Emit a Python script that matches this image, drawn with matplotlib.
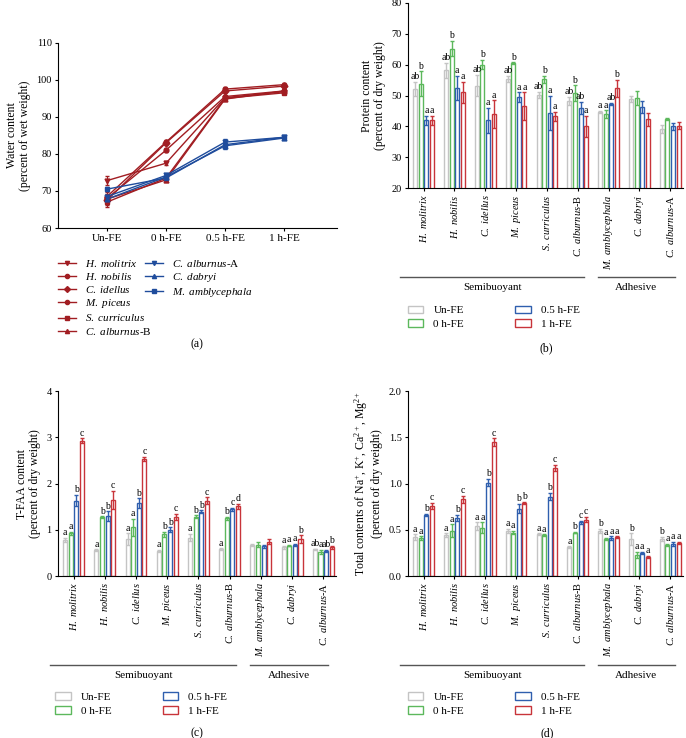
import numpy as np
import matplotlib
matplotlib.use("Agg")
from matplotlib import pyplot as plt
from matplotlib.lines import Line2D
from matplotlib.patches import Patch
from matplotlib.transforms import blended_transform_factory

plt.rcParams["font.family"] = ["Liberation Serif", "DejaVu Serif"]
plt.rcParams["mathtext.fontset"] = "custom"
plt.rcParams["mathtext.rm"] = "Liberation Serif"
plt.rcParams["mathtext.it"] = "Liberation Serif:italic"
plt.rcParams["font.size"] = 7.5
plt.rcParams["axes.linewidth"] = 0.8

stages = ["Un-FE", "0 h-FE", "0.5 h-FE", "1 h-FE"]
species = ["H. molitrix", "H. nobilis", "C. idellus", "M. piceus", "S. curriculus",
           "C. alburnus-B", "M. amblycephala", "C. dabryi", "C. alburnus-A"]

# (a) water content, percent of wet weight
water_red = {
    "H. molitrix": [72.8, 77.5, 95.2, 96.8],
    "H. nobilis": [68.5, 83.2, 97.5, 98.7],
    "C. idellus": [67.5, 83.0, 97.0, 98.3],
    "M. piceus": [68.0, 81.0, 95.5, 97.0],
    "S. curriculus": [67.0, 73.5, 95.0, 96.5],
    "C. alburnus-B": [67.8, 73.0, 94.8, 97.0],
}
water_red_err = [1.2, 0.6, 0.5, 0.4]
water_blue = {
    "C. alburnus-A": [68.5, 74.2, 83.2, 84.5],
    "C. dabryi": [67.8, 73.8, 82.2, 84.3],
    "M. amblycephala": [70.5, 73.5, 82.5, 84.5],
}
water_blue_err = [0.5, 0.5, 0.9, 0.3]
red_markers = ["v", "o", "D", "o", "s", "^"]
blue_markers = ["v", "^", "s"]

# (b) protein content
protein = [[52.1, 53.8, 42.0, 42.0], [58.2, 65.2, 52.5, 51.0], [53.2, 60.0, 42.0, 44.0],
           [55.3, 60.5, 49.5, 46.5], [50.2, 55.3, 44.5, 43.3], [48.3, 50.8, 46.0, 40.0],
           [44.8, 44.0, 47.3, 52.3], [49.0, 49.3, 46.3, 42.3], [39.2, 42.3, 40.0, 40.3]]
protein_err = [[2.3, 4.0, 1.5, 1.5], [2.5, 2.5, 4.0, 3.5], [3.5, 1.5, 4.0, 4.5],
               [1.0, 0.3, 1.5, 4.5], [1.0, 1.2, 5.5, 1.5], [1.2, 2.5, 2.0, 3.5],
               [0.3, 1.2, 0.3, 2.8], [1.0, 2.2, 2.0, 2.0], [1.2, 0.3, 1.0, 1.2]]
protein_letters = [["ab", "b", "a", "a"], ["ab", "b", "a", "a"], ["ab", "b", "a", "a"],
                   ["ab", "b", "a", "a"], ["ab", "b", "a", "a"], ["ab", "b", "ab", "a"],
                   ["a", "a", "ab", "b"], ["", "", "", ""], ["", "", "", ""]]

# (c) T-FAA content
tfaa = [[0.78, 0.92, 1.63, 2.93], [0.56, 1.27, 1.30, 1.65], [0.80, 1.05, 1.58, 2.53],
        [0.55, 0.90, 1.00, 1.28], [0.83, 1.28, 1.39, 1.63], [0.58, 1.25, 1.44, 1.51],
        [0.67, 0.68, 0.64, 0.74], [0.62, 0.66, 0.68, 0.80], [0.58, 0.52, 0.55, 0.62]]
tfaa_err = [[0.05, 0.04, 0.12, 0.05], [0.02, 0.02, 0.10, 0.20], [0.12, 0.18, 0.10, 0.05],
            [0.02, 0.06, 0.05, 0.06], [0.08, 0.03, 0.03, 0.07], [0.02, 0.03, 0.03, 0.05],
            [0.02, 0.06, 0.04, 0.05], [0.03, 0.01, 0.02, 0.08], [0.01, 0.04, 0.02, 0.03]]
tfaa_letters = [["a", "a", "b", "c"], ["a", "b", "b", "c"], ["a", "a", "b", "c"],
                ["a", "b", "b", "c"], ["a", "b", "b", "c"], ["a", "b", "c", "d"],
                ["", "", "", ""], ["a", "a", "a", "b"], ["ab", "a", "ab", "b"]]

# (d) total contents of Na+, K+, Ca2+, Mg2+
ions = [[0.42, 0.41, 0.66, 0.76], [0.44, 0.49, 0.63, 0.83], [0.54, 0.52, 1.01, 1.45],
        [0.49, 0.47, 0.73, 0.79], [0.45, 0.44, 0.86, 1.17], [0.31, 0.47, 0.58, 0.61],
        [0.49, 0.40, 0.41, 0.42], [0.40, 0.23, 0.25, 0.21], [0.40, 0.34, 0.35, 0.36]]
ions_err = [[0.03, 0.02, 0.01, 0.03], [0.02, 0.07, 0.03, 0.04], [0.04, 0.06, 0.04, 0.04],
            [0.02, 0.02, 0.05, 0.01], [0.01, 0.01, 0.04, 0.03], [0.01, 0.01, 0.02, 0.03],
            [0.02, 0.01, 0.02, 0.01], [0.06, 0.03, 0.01, 0.01], [0.02, 0.01, 0.02, 0.01]]
ions_letters = [["a", "a", "b", "c"], ["a", "a", "b", "c"], ["a", "a", "b", "c"],
                ["a", "a", "b", "b"], ["a", "a", "b", "c"], ["a", "b", "c", "c"],
                ["b", "a", "a", "a"], ["b", "a", "a", "a"], ["b", "a", "a", "a"]]

bar_colors = ["#c4c4c4", "#5cb85c", "#2f5fae", "#c8343a"]
red_line = "#a11d22"
blue_line = "#1f4c9c"


def species_label(name):
    # italic genus/species, upright suffix like -A / -B
    if "-" in name:
        base, suffix = name.split("-")
        return r"$\it{" + base.replace(" ", r"\ ") + "}$-" + suffix
    return r"$\it{" + name.replace(" ", r"\ ") + "}$"


def draw_bars(ax, values, errors, letters, ylim, yticks, ylabel, group_y, panel_xy, fig):
    values = np.array(values)
    errors = np.array(errors)
    x = np.arange(len(species))
    pitch, width = 0.18, 0.13
    for j in range(4):
        xs = x + (j - 1.5) * pitch
        ax.bar(xs, values[:, j], width=width, facecolor="white",
               edgecolor=bar_colors[j], linewidth=1.0, zorder=2)
        ax.errorbar(xs, values[:, j], yerr=errors[:, j], fmt="none",
                    ecolor=bar_colors[j], elinewidth=1.0, capsize=1.5, capthick=1.0, zorder=3)
        for i in range(len(species)):
            if letters[i][j]:
                ax.annotate(letters[i][j], (xs[i], values[i, j] + errors[i, j]),
                            xytext=(0, 0.5), textcoords="offset points",
                            ha="center", va="bottom", fontsize=7)
    ax.set_xlim(-0.5, 8.4)
    ax.set_ylim(*ylim)
    ax.set_yticks(yticks)
    ax.set_xticks(x)
    ax.set_xticklabels([species_label(s) for s in species], rotation=90, fontsize=7.5)
    ax.tick_params(axis="both", length=2.5, width=0.8, pad=2)
    ax.set_ylabel(ylabel, fontsize=8.5, linespacing=1.1)
    for side in ["top", "right"]:
        ax.spines[side].set_visible(False)

    trans = blended_transform_factory(ax.transData, fig.transFigure)
    for x0, x1, name in [(-0.75, 5.2, "Semibuoyant"), (5.65, 8.15, "Adhesive")]:
        fig.add_artist(Line2D([x0, x1], [group_y, group_y], transform=trans,
                              color="#555555", linewidth=1.0))
        fig.text((x0 + x1) / 2, group_y - 0.008, name, transform=trans,
                 ha="center", va="top", fontsize=8)

    handles = [Patch(facecolor="white", edgecolor=c, linewidth=1.0) for c in bar_colors]
    fig.legend(handles, stages, loc="upper left", ncol=2, frameon=False,
               bbox_to_anchor=(panel_xy[0], panel_xy[1]), handlelength=1.4,
               handleheight=0.7, labelspacing=0.35, columnspacing=4.6,
               handletextpad=0.9, fontsize=8, borderaxespad=0)


fig = plt.figure(figsize=(6.86, 7.38), dpi=100)

# (a)
ax_a = fig.add_axes([0.0845, 0.691, 0.407, 0.251])
handles_red, handles_blue = [], []
for (name, vals), mk in zip(water_red.items(), red_markers):
    ax_a.errorbar(range(4), vals, yerr=water_red_err, color=red_line, marker=mk,
                  markersize=3.5, linewidth=1.0, elinewidth=0.8, capsize=1.5)
    handles_red.append(Line2D([], [], color=red_line, marker=mk, markersize=3, linewidth=1.0))
for (name, vals), mk in zip(water_blue.items(), blue_markers):
    ax_a.errorbar(range(4), vals, yerr=water_blue_err, color=blue_line, marker=mk,
                  markersize=3.5, linewidth=1.0, elinewidth=0.8, capsize=1.5)
    handles_blue.append(Line2D([], [], color=blue_line, marker=mk, markersize=3, linewidth=1.0))
ax_a.set_xlim(-0.83, 3.9)
ax_a.set_ylim(60, 110)
ax_a.set_yticks(range(60, 111, 10))
ax_a.set_xticks(range(4))
ax_a.set_xticklabels(stages, fontsize=8)
ax_a.tick_params(axis="both", length=2.5, width=0.8, pad=2)
ax_a.set_ylabel("Water content\n(percent of wet weight)", fontsize=8.5, linespacing=1.1)
for side in ["top", "right"]:
    ax_a.spines[side].set_visible(False)

fig.legend(handles_red, [species_label(n) for n in water_red], loc="upper left",
           frameon=False, bbox_to_anchor=(0.078, 0.657), handlelength=1.6,
           labelspacing=0.2, handletextpad=0.8, fontsize=8, borderaxespad=0)
fig.legend(handles_blue, [species_label(n) for n in water_blue], loc="upper left",
           frameon=False, bbox_to_anchor=(0.205, 0.657), handlelength=1.6,
           labelspacing=0.2, handletextpad=0.8, fontsize=8, borderaxespad=0)

# (b)
ax_b = fig.add_axes([0.595, 0.745, 0.40, 0.251])
draw_bars(ax_b, protein, protein_err, protein_letters, (20, 80), range(20, 81, 10),
          "Protein content\n(percent of dry weight)", 0.6247, (0.588, 0.592), fig)

# (c)
ax_c = fig.add_axes([0.0845, 0.2195, 0.405, 0.2505])
draw_bars(ax_c, tfaa, tfaa_err, tfaa_letters, (0, 4), range(0, 5),
          "T-FAA content\n(percent of dry weight)", 0.0989, (0.074, 0.068), fig)

# (d)
ax_d = fig.add_axes([0.595, 0.2195, 0.40, 0.2505])
draw_bars(ax_d, ions, ions_err, ions_letters, (0, 2.0), np.arange(0, 2.01, 0.5),
          "Total contents of Na$^{+}$, K$^{+}$, Ca$^{2+}$, Mg$^{2+}$\n(percent of dry weight)",
          0.0989, (0.588, 0.068), fig)
ax_d.set_yticklabels(["0.0", "0.5", "1.0", "1.5", "2.0"])

for label, (px, py) in zip(["(a)", "(b)", "(c)", "(d)"],
                           [(0.287, 0.533), (0.797, 0.528), (0.287, 0.007), (0.797, 0.007)]):
    fig.text(px, py, label, ha="center", va="center", fontsize=8.5)

fig.savefig("out.png", dpi=100)
